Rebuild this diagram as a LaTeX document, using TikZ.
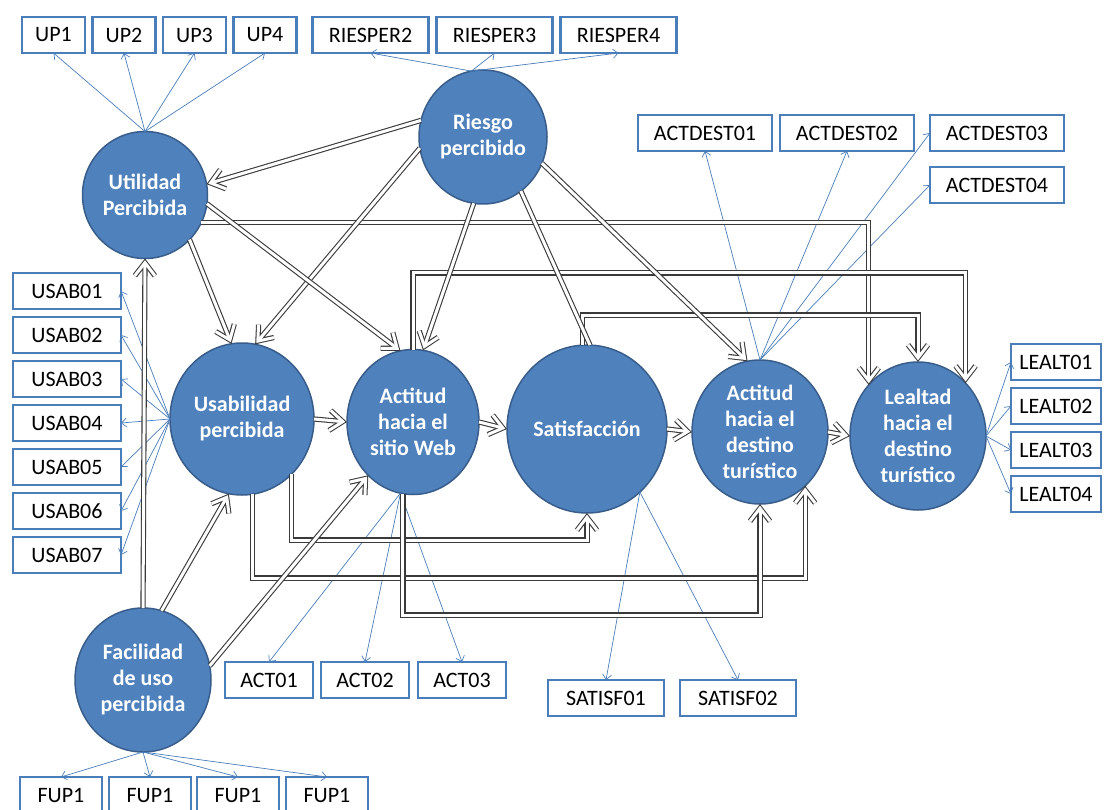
\documentclass[tikz,border=0pt]{standalone}
\usepackage{fontspec}
\setmainfont{Carlito}
\usetikzlibrary{positioning}
\usetikzlibrary{arrows.meta,shapes.geometric}

\definecolor{latfill}{HTML}{4F81BD}
\definecolor{latedge}{HTML}{385D8A}
\definecolor{indblue}{HTML}{4A7EBB}
\definecolor{relgray}{HTML}{3A3A3A}

\begin{document}
\begin{tikzpicture}[x=1pt, y=-1pt,
    lat/.style={ellipse, fill=latfill, draw=latedge, line width=1.5pt, text=white,
        font=\fontsize{22}{26}\selectfont\bfseries, align=center, inner sep=0pt, outer sep=0pt},
    ind/.style={draw=indblue, line width=2.5pt, fill=white, minimum height=36pt,
        font=\fontsize{22}{26}\selectfont, inner sep=0pt, outer sep=0pt},
    meas/.style={draw=indblue, line width=0.7pt, -{Straight Barb[length=5pt,width=9pt]}},
    relnt/.style={draw=relgray, line width=5.2pt, postaction={draw=white, line width=3pt}},
    % the white pass sits back a little so both barbs share one centre line
    rel/.style={draw=relgray, line width=5.2pt, -{Straight Barb[length=13pt,width=20pt]},
        postaction={draw=white, line width=3pt, -{Straight Barb[length=13pt,width=20pt,sep=1.7pt]}}}
]
  \useasboundingbox[fill=white] (0,0) rectangle (1105,810);

  % constructs
  \node[lat, minimum width=125pt, minimum height=127pt] (up) at (145,195) {Utilidad\\Percibida};
  \node[lat, minimum width=128pt, minimum height=134pt] (rp) at (483,137) {Riesgo\\percibido};
  \node[lat, minimum width=144pt, minimum height=152pt] (usab) at (242,419) {Usabilidad\\percibida};
  \node[lat, minimum width=132pt, minimum height=145pt] (actweb) at (413,422) {Actitud\\hacia el\\sitio Web};
  \node[lat, minimum width=160pt, minimum height=168pt] (satisf) at (587,429) {Satisfacción};
  \node[lat, minimum width=136pt, minimum height=144pt] (adest) at (760,432) {Actitud\\hacia el\\destino\\turístico};
  \node[lat, minimum width=136pt, minimum height=148pt] (leal) at (918,436) {Lealtad\\hacia el\\destino\\turístico};
  \node[lat, minimum width=136pt, minimum height=144pt] (facil) at (143,680) {Facilidad\\de uso\\percibida};

  % indicators
  \foreach \i/\name in {1/UP1,2/UP2,3/UP3,4/UP4}
    \node[ind, minimum width=63pt] (up\i) at (-17+\i*70.5, 35) {\name};
  \foreach \i in {2,3,4}
    \node[ind, minimum width=116pt] (ries\i) at (122.5+\i*124, 35) {RIESPER\i};
  \foreach \i/\x/\y in {1/705/133, 2/847/133, 3/997/133, 4/997/185}
    \node[ind, minimum width=134pt] (adest\i) at (\x,\y) {ACTDEST0\i};
  \foreach \i in {1,...,7}
    \node[ind, minimum width=108pt] (usab\i) at (67, 247+\i*44) {USAB0\i};
  \foreach \i in {1,...,4}
    \node[ind, minimum width=90pt] (leal\i) at (1056, 318+\i*44) {LEALT0\i};
  \foreach \i/\x in {1/269, 2/365, 3/462}
    \node[ind, minimum width=88pt] (act\i) at (\x, 680) {ACT0\i};
  \foreach \i/\x in {1/606, 2/738}
    \node[ind, minimum width=116pt] (satisf\i) at (\x, 698) {SATISF0\i};
  \foreach \i/\x in {1/61, 2/150, 3/238, 4/327}
    \node[ind, minimum width=82pt] (fup\i) at (\x, 795) {FUP1};

  % loadings
  \foreach \i in {1,...,4} \draw[meas] (up.north) -- (up\i.south);
  \foreach \i in {2,3,4} \draw[meas] (rp.100) -- (ries\i.south);
  \draw[meas] (adest.north) -- (adest1.south);
  \draw[meas] (adest.north) -- (adest2.south);
  \draw[meas] (adest.north) -- (adest3.west);
  \draw[meas] (adest.north) -- (adest4.west);
  \foreach \i in {1,...,7} \draw[meas] (usab.west) -- (usab\i.east);
  \foreach \i in {1,...,4} \draw[meas] (leal.east) -- (leal\i.west);
  \foreach \i in {1,2,3} \draw[meas] (actweb.-100) -- (act\i.north);
  \foreach \i in {1,2} \draw[meas] (satisf.-50) -- (satisf\i.north);
  \foreach \i in {1,...,4} \draw[meas] (facil.south) -- (fup\i.north);

  % levels for the routed paths
  \coordinate (rowB) at (0,273);
  \coordinate (rowC) at (0,315);
  \coordinate (rowD) at (0,540);
  \coordinate (rowE) at (0,578);
  \coordinate (rowF) at (0,615);

  % structural relations
  \draw[rel] (up.-26) -| (leal.134);
  \draw[rel] (actweb.north) -- (actweb.north |- rowB) -| (leal.48);
  \draw[rel] (satisf.93) -- (satisf.93 |- rowC) -| (leal.north);
  \draw[rel] (usab.-48) -- (usab.-48 |- rowD) -| (satisf.south);
  \draw[rel] (usab.-82) -- (usab.-82 |- rowE) -| (adest.-50);
  \draw[rel] (actweb.-98) -- (actweb.-98 |- rowF) -| (adest.south);

  \draw[rel] (rp.165) -- (up.10);
  \draw[rel] (rp.190) -- (usab.80);
  \draw[rel] (rp.-98) -- (actweb.82);
  \draw[relnt] (rp.-55) -- (satisf.88);
  \draw[rel] (rp.-24) -- (adest.100);
  \draw[rel] (up.-45) -- (usab.98);
  \draw[rel] (up.-8) -- (actweb.100);
  \draw[rel] (facil.north) -- (up.south);
  \draw[rel] (facil.75) -- (usab.-100);
  \draw[rel] (facil.12) -- (actweb.-130);

  \draw[rel] (usab.east) -- (actweb.west);
  \draw[rel] (actweb.east) -- (satisf.west);
  \draw[rel] (satisf.east) -- (adest.west);
  \draw[rel] (adest.east) -- (leal.west);

\end{tikzpicture}
\end{document}
